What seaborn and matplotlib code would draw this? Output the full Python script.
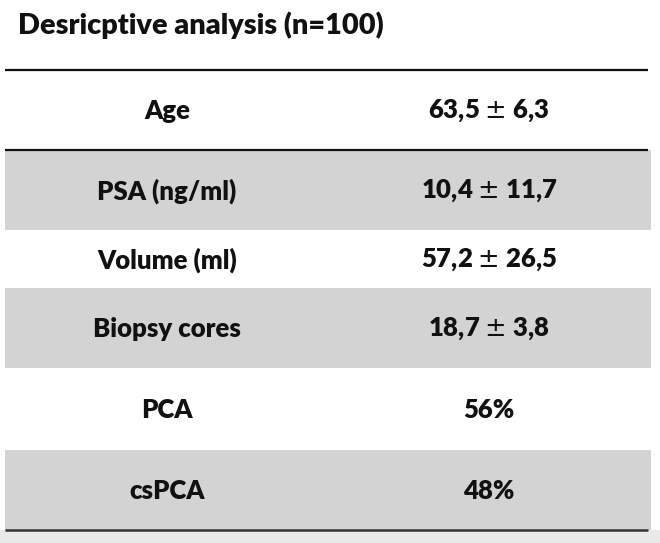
import matplotlib
matplotlib.use('Agg')
import seaborn as sns
import matplotlib.pyplot as plt
import pandas as pd

# table content
title = "Desricptive analysis (n=100)"
variables = ["Age", "PSA (ng/ml)", "Volume (ml)", "Biopsy cores", "PCA", "csPCA"]
values = ["63,5 \u00b1 6,3", "10,4 \u00b1 11,7", "57,2 \u00b1 26,5", "18,7 \u00b1 3,8", "56%", "48%"]

# row edges in pixels (top to bottom)
rowEdges = [70, 150, 230, 288, 368, 450, 530]
shaded = [False, True, False, True, False, True]

df = pd.DataFrame({"variable": variables, "value": values})

sns.set_theme(style="white")
plt.rcParams['font.family'] = ['Lato', 'DejaVu Sans']
plt.rcParams['mathtext.fontset'] = 'dejavusans'

fig = plt.figure(figsize=(6.6, 5.43), dpi=100)
ax = fig.add_axes([0, 0, 1, 1])
ax.set_xlim(0, 660)
ax.set_ylim(543, 0)
ax.axis('off')

xLeft, xRight = 5, 648
colLeft, colRight = 167, 489
cellFont = dict(ha="center", va="center", fontsize=18.5, fontweight="heavy", color="#111111")

# grey bands and cell text
for i, row in df.iterrows():
	top, bot = rowEdges[i], rowEdges[i + 1]
	if shaded[i]:
		ax.fill_between([xLeft, xRight + 3], top, bot, color="#d3d3d3", lw=0)
	yc = (top + bot) / 2 + 1
	ax.text(colLeft, yc, row["variable"], **cellFont)
	ax.text(colRight, yc, row["value"].replace(" \u00b1 ", " $\\pm$ "), **cellFont)

# area below the table
ax.fill_between([0, 660], rowEdges[-1], 543, color="#e9e9e9", lw=0)

# rules
ax.plot([xLeft, xRight], [rowEdges[0], rowEdges[0]], color="#111111", lw=1.6, solid_capstyle="butt")
ax.plot([xLeft, xRight], [rowEdges[1], rowEdges[1]], color="#111111", lw=1.6, solid_capstyle="butt")
ax.plot([xLeft, xRight], [rowEdges[-1], rowEdges[-1]], color="#333333", lw=1.8, solid_capstyle="butt")

ax.text(18, 25, title, ha="left", va="center", fontsize=20.8, fontweight="heavy", color="#111111")

plt.savefig("out.png", dpi=100)
plt.close("all")
